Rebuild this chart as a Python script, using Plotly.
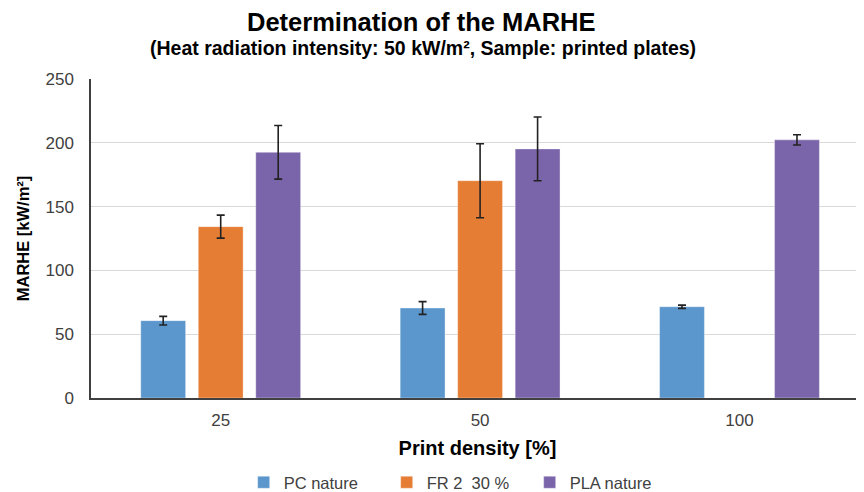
import plotly.graph_objects as go

categories = ["25", "50", "100"]
series_names = ["PC nature", "FR 2\u00a0 30 %", "PLA nature"]
pc_values = [60.6, 70.5, 71.5]
pc_errors = [3.4, 5.0, 1.3]
fr_values = [134.3, 170.3, None]
fr_errors = [9.0, 29.0, None]
pla_values = [192.5, 195.2, 202.3]
pla_errors = [21.0, 25.0, 4.0]
colors = ["#5B96CC", "#E67D35", "#7B65AA"]

title_text = "Determination of the MARHE"
subtitle_text = "(Heat radiation intensity: 50 kW/m², Sample: printed plates)"
x_title = "Print density [%]"
y_title = "MARHE [kW/m²]"

fig = go.Figure()
for name, vals, errs, col in zip(series_names,
                                 [pc_values, fr_values, pla_values],
                                 [pc_errors, fr_errors, pla_errors],
                                 colors):
    fig.add_trace(go.Bar(
        x=categories, y=vals, name=name,
        marker=dict(color=col, line=dict(color="rgba(255,255,255,0.35)", width=1)),
        error_y=dict(type="data", array=errs, visible=True,
                     color="#222222", thickness=1.6, width=4),
    ))

FONT = "Liberation Sans, Arial, sans-serif"

fig.update_layout(
    width=856, height=484,
    margin=dict(l=83, r=0, t=71, b=94, autoexpand=False),
    paper_bgcolor="white", plot_bgcolor="white",
    barmode="group", bargap=0.335, bargroupgap=0.22,
    font=dict(family=FONT, color="#404040", size=17),
    showlegend=True,
    legend=dict(orientation="h", x=0.475, xanchor="center", y=-0.265, yanchor="middle",
                font=dict(size=16.5, color="#404040"), traceorder="normal",
                itemwidth=30, entrywidth=98, entrywidthmode="pixels"),
    xaxis=dict(
        range=[-0.5, 2.48], showline=True, linecolor="#404040", linewidth=1.5,
        ticks="", tickfont=dict(size=17, color="#404040"), ticklabelstandoff=6,
        automargin=False,
        title=dict(text="<b>" + x_title + "</b>", font=dict(size=20, color="#000000"), standoff=12),
    ),
    yaxis=dict(
        range=[0, 250], dtick=50, showline=True, linecolor="#404040", linewidth=1.5,
        showgrid=True, gridcolor="#D9D9D9", gridwidth=1,
        ticks="", tickfont=dict(size=17, color="#404040"), ticklabelstandoff=12,
        zeroline=False, automargin=False,
        title=dict(text="<b>" + y_title + "</b>", font=dict(size=16.5, color="#000000"), standoff=12),
    ),
    annotations=[
        dict(text="<b>" + title_text + "</b>", xref="paper", yref="paper",
             x=0.428, y=1.1787, xanchor="center", yanchor="middle", showarrow=False,
             font=dict(size=25.5, color="#000000", family=FONT)),
        dict(text="<b>" + subtitle_text + "</b>", xref="paper", yref="paper",
             x=0.43, y=1.097, xanchor="center", yanchor="middle", showarrow=False,
             font=dict(size=19.5, color="#000000", family=FONT)),
    ],
)

fig.write_html("out.html")
